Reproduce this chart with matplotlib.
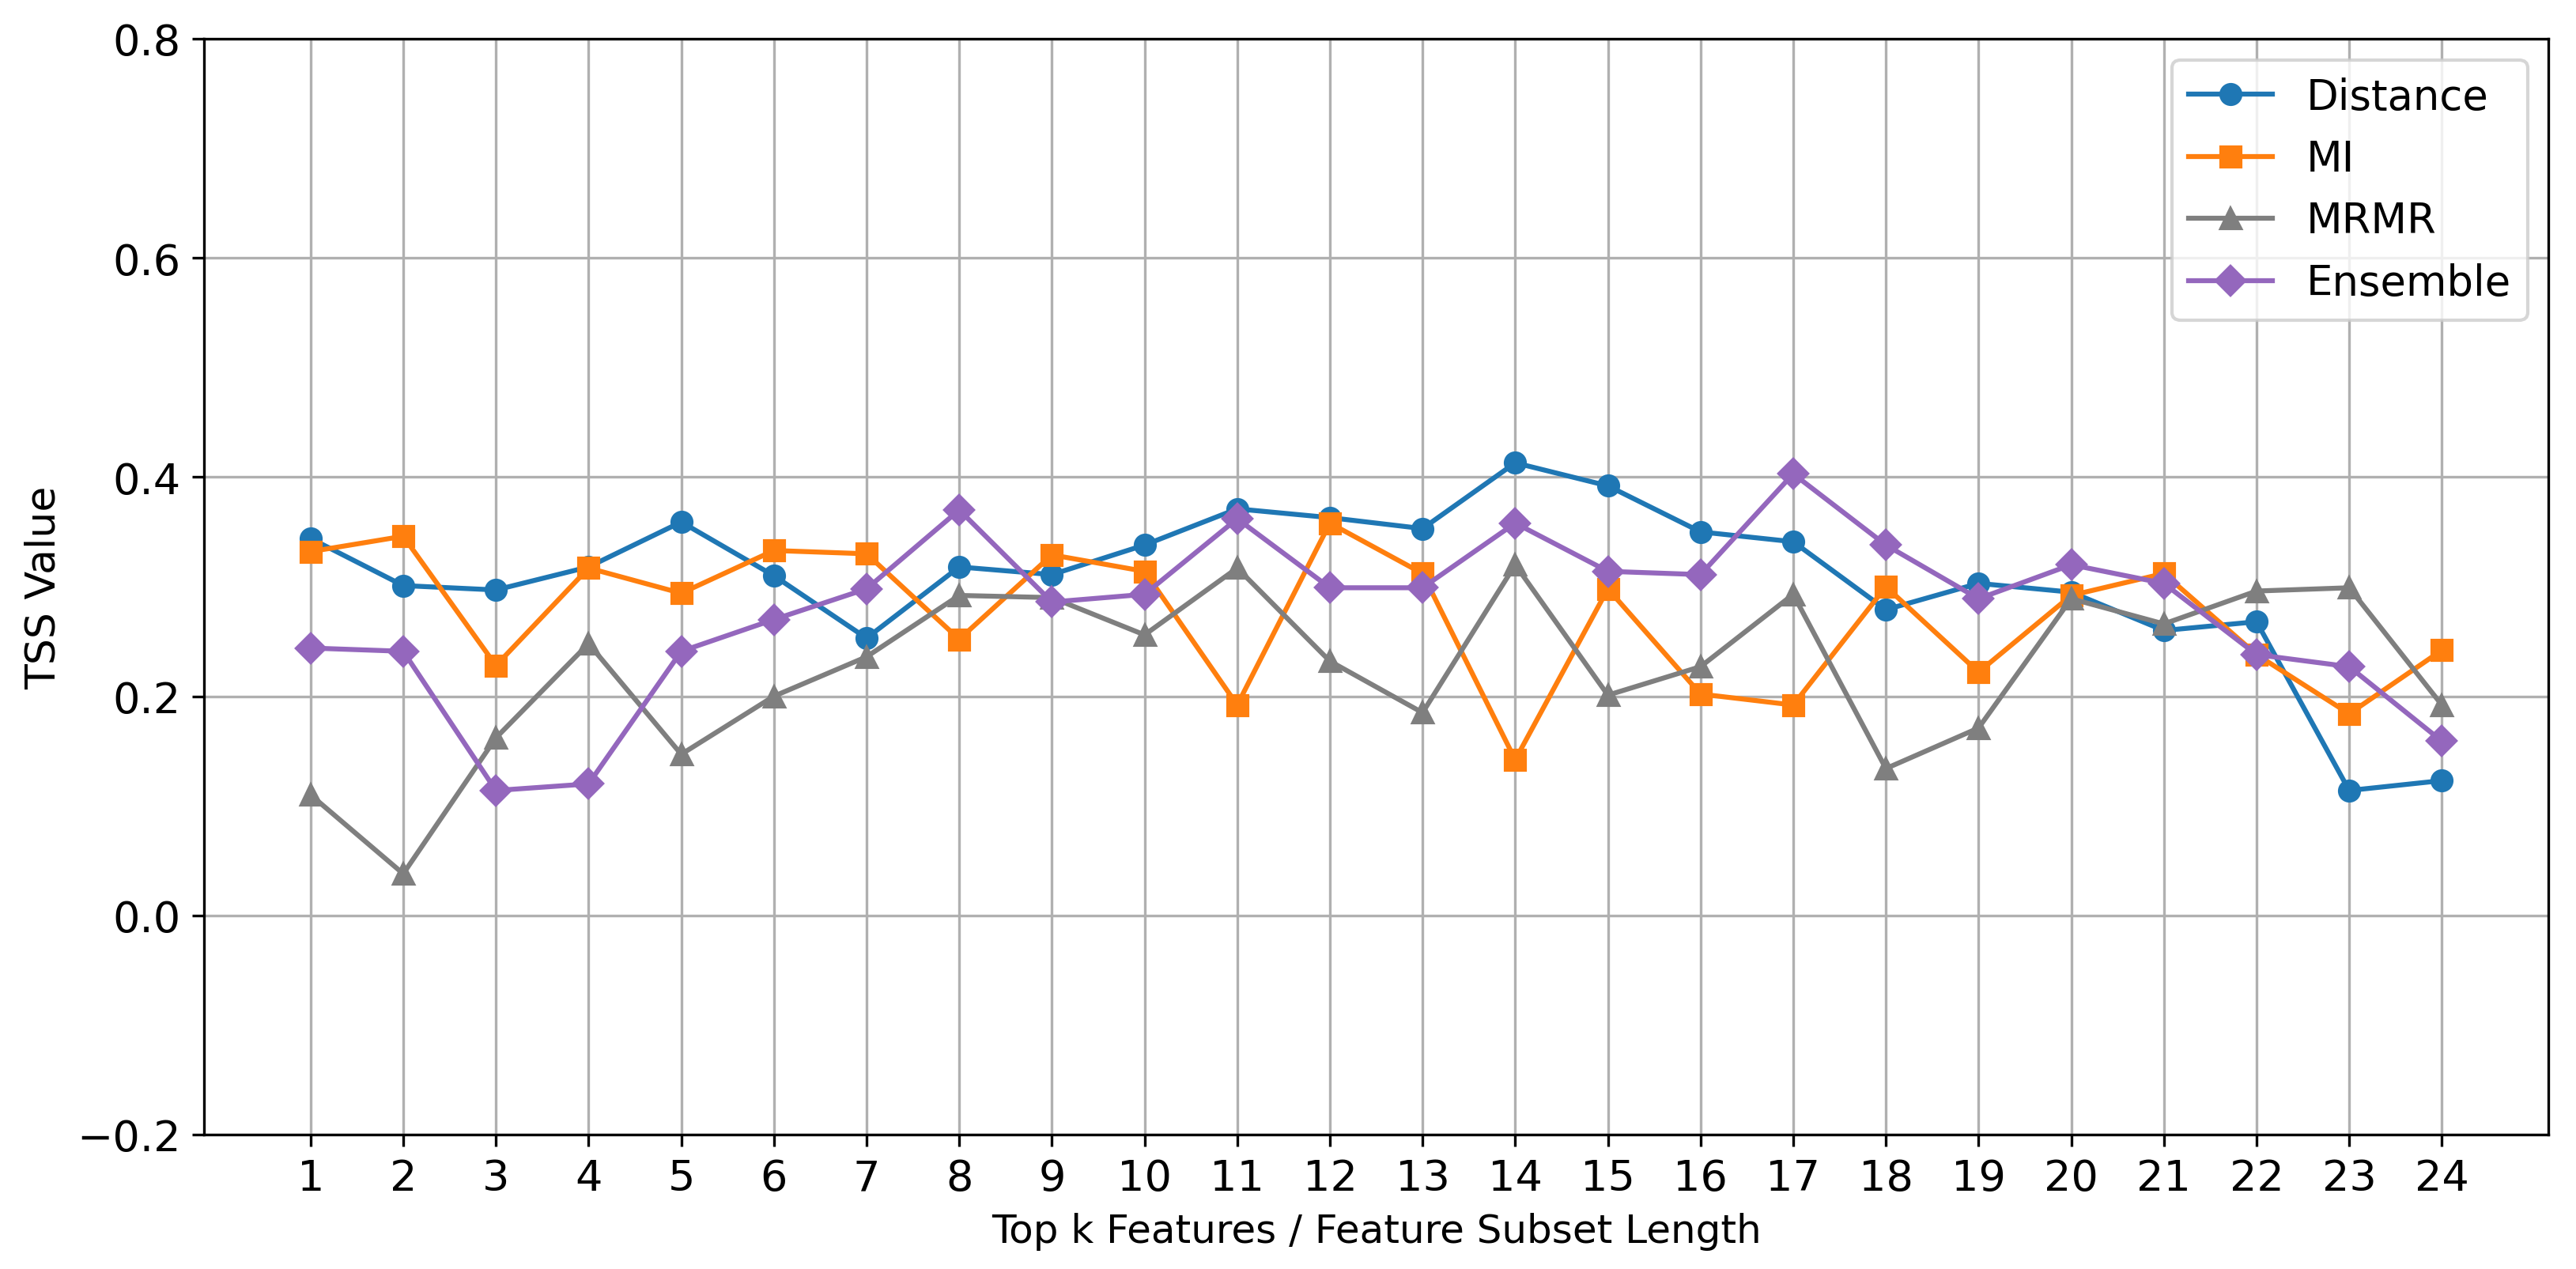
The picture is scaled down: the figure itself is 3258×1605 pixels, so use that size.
import matplotlib
matplotlib.use("Agg")
import matplotlib.pyplot as plt

k = list(range(1, 25))
distance = [0.344, 0.301, 0.297, 0.318, 0.359, 0.310, 0.253, 0.318, 0.311, 0.338, 0.371, 0.363,
            0.353, 0.413, 0.392, 0.350, 0.341, 0.279, 0.303, 0.295, 0.260, 0.268, 0.114, 0.123]
mi = [0.332, 0.346, 0.228, 0.317, 0.294, 0.333, 0.330, 0.252, 0.329, 0.314, 0.192, 0.358,
      0.312, 0.142, 0.298, 0.202, 0.192, 0.300, 0.222, 0.292, 0.312, 0.238, 0.184, 0.242]
mrmr = [0.110, 0.038, 0.162, 0.248, 0.147, 0.200, 0.236, 0.292, 0.290, 0.256, 0.317, 0.232,
        0.185, 0.320, 0.201, 0.227, 0.293, 0.134, 0.171, 0.289, 0.266, 0.296, 0.299, 0.192]
ensemble = [0.244, 0.241, 0.114, 0.120, 0.241, 0.270, 0.298, 0.370, 0.286, 0.293, 0.362, 0.299,
            0.299, 0.358, 0.314, 0.311, 0.403, 0.338, 0.289, 0.320, 0.303, 0.238, 0.227, 0.159]

fig = plt.figure(figsize=(10.86, 5.353), dpi=300)
ax = fig.add_axes([0.0792, 0.1059, 0.9101, 0.863])

ax.plot(k, distance, marker='o', color='#1f77b4', label='Distance')
ax.plot(k, mi, marker='s', color='#ff7f0e', label='MI')
ax.plot(k, mrmr, marker='^', color='#7f7f7f', label='MRMR')
ax.plot(k, ensemble, marker='D', color='#9467bd', label='Ensemble')

ax.set_ylim(-0.2, 0.8)
ax.set_yticks([-0.2, 0.0, 0.2, 0.4, 0.6, 0.8])
ax.set_xticks(k)
ax.tick_params(labelsize=13)
ax.set_xlabel('Top k Features / Feature Subset Length', fontsize=12)
ax.set_ylabel('TSS Value', fontsize=12.5)
ax.grid(True)
ax.legend(loc='upper right', fontsize=12.7)

fig.savefig('out.png', dpi=300)
